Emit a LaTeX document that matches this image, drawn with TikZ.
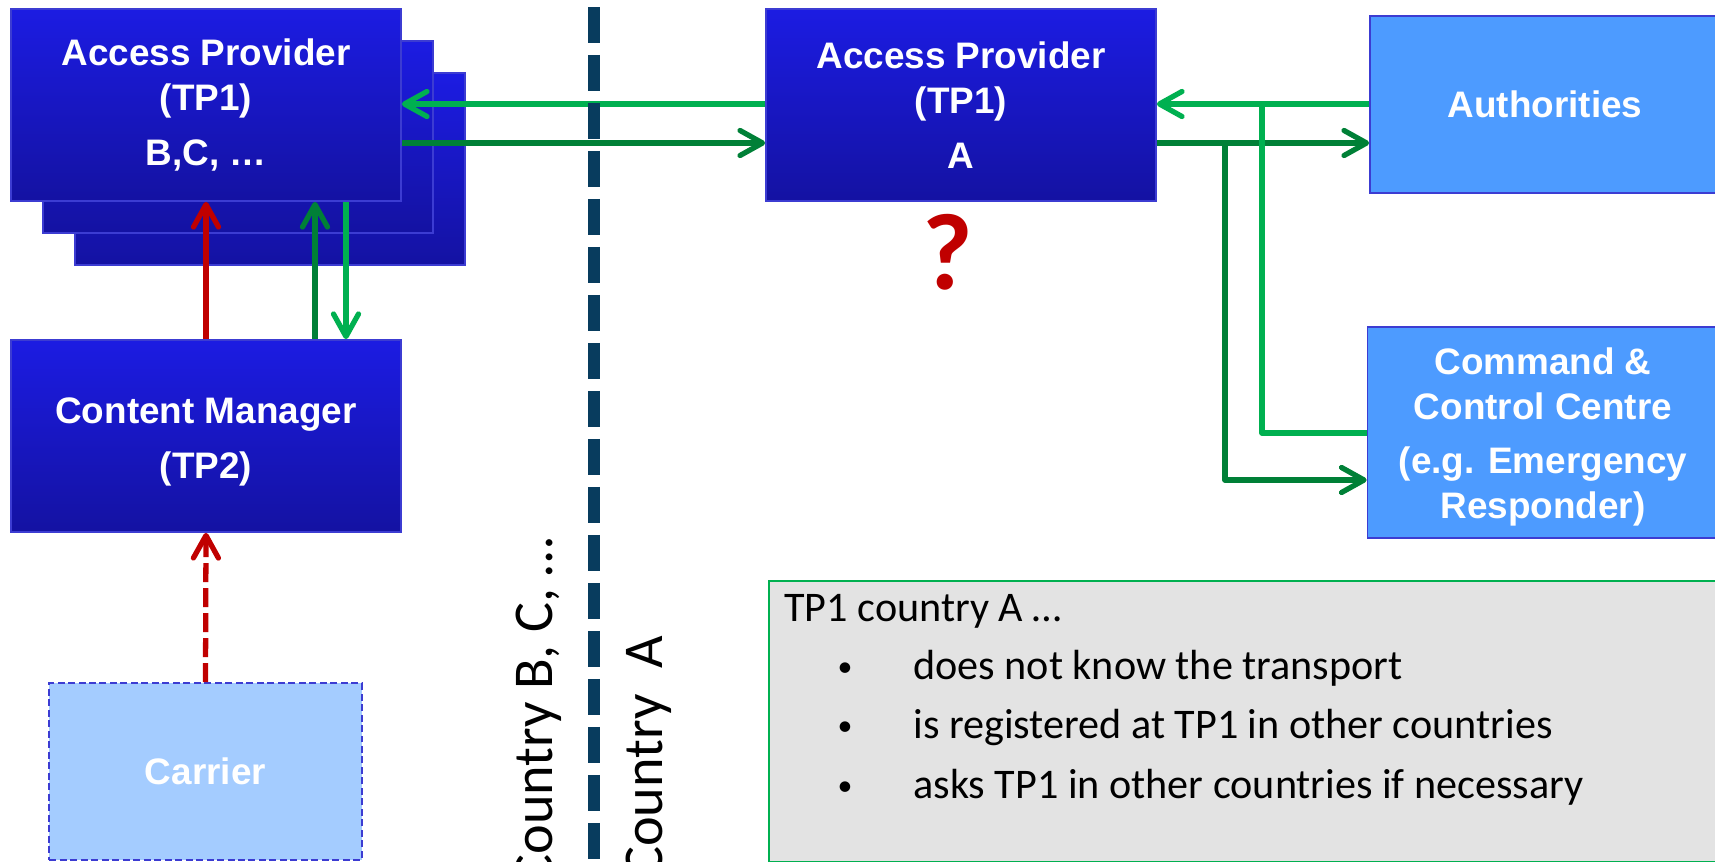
\documentclass[tikz,border=0pt]{standalone}
\usepackage{fontspec}
\setmainfont{Carlito}
\setsansfont{Liberation Sans}
\usetikzlibrary{
    arrows.meta,
    calc,
    positioning
}
\definecolor{apblue}{RGB}{28,28,226}
\definecolor{apdark}{RGB}{20,18,162}
\definecolor{apedge}{RGB}{60,60,210}
\definecolor{skyblue}{RGB}{77,155,255}
\definecolor{paleblue}{RGB}{164,204,255}
\definecolor{ltgreen}{RGB}{0,176,80}
\definecolor{dkgreen}{RGB}{0,128,55}
\definecolor{flowred}{RGB}{192,0,0}
\definecolor{borderline}{RGB}{8,60,94}
\definecolor{notegray}{RGB}{227,227,227}
\tikzset{
    boxfont/.style={font=\sffamily\bfseries\fontsize{21}{25.5}\selectfont},
    tpbox/.style={boxfont, draw=apedge, line width=1pt, top color=apblue, bottom color=apdark,
        text=white, align=center, inner sep=0pt, minimum width=7.8cm, minimum height=3.84cm},
    extbox/.style={boxfont, draw=apedge, line width=1pt, fill=skyblue, text=white,
        align=center, inner sep=0pt},
    flow/.style={line width=3pt, line join=round, -{Straight Barb[length=4.5mm,width=5mm,round]}},
    notetext/.style={font=\fontsize{24}{29}\selectfont, inner sep=0pt, anchor=base west},
    dot/.style={font=\fontsize{17}{20}\selectfont, inner sep=0pt, anchor=base}
}

\begin{document}
\begin{tikzpicture}[x=0.02cm, y=-0.02cm]
    \useasboundingbox (0,0) rectangle (1715,862);

    \node[tpbox] (apb3) at (270,169) {};
    \node[tpbox] (apb2) at (238,137) {};
    \node[tpbox] (apb) at (206,105) {Access Provider\\(TP1)\\[5.5pt]B,C, …};
    \node[tpbox] (cm) at (206,436) {\rule{0pt}{21.5pt}Content Manager\\[5.5pt](TP2)};
    \node[boxfont, draw=apedge, line width=1pt, dash pattern=on 0.14cm off 0.07cm, fill=paleblue,
        text=white, inner sep=0pt, minimum width=6.26cm, minimum height=3.54cm] (car) at (205.5,771.5) {Carrier};
    \node[tpbox] (apa) at (961,105) {Access Provider\\(TP1)\\[5.5pt]A};
    \node[extbox, minimum width=7cm, minimum height=3.54cm] (auth) at (1545,104.5) {Authorities};
    \node[extbox, minimum width=7.02cm, minimum height=4.22cm] (ccc) at (1543,432.5)
        {\rule{0pt}{20.5pt}Command \&\\Control Centre\\[5.5pt](e.g. Emergency\\Responder)};
    \node[text=flowred, inner sep=0pt, font=\bfseries\fontsize{62}{70}\selectfont] (qm) at (948,252) {?};

    \node[draw=ltgreen, fill=notegray, line width=1pt, anchor=north west, inner sep=0pt,
        minimum width=19.04cm, minimum height=5.62cm] (note) at (768,580) {};
    \node[notetext] (n0) at (784,621) {TP1 country A …};
    \node[dot] (b1) at (845,676) {•};
    \node[notetext] (n1) at (913,679) {does not know the transport};
    \node[dot] (b2) at (845,735) {•};
    \node[notetext] (n2) at (913,738) {is registered at TP1 in other countries};
    \node[dot] (b3) at (845,795) {•};
    \node[notetext] (n3) at (913,798) {asks TP1 in other countries if necessary};

    \coordinate (dg1) at (315,0);
    \coordinate (lg1) at (346,0);
    \coordinate (dgv) at (1225,0);
    \coordinate (lgv) at (1262,0);
    \coordinate (ya) at (0,104);
    \coordinate (yb) at (0,143);
    \coordinate (yc) at (0,433);
    \coordinate (yd) at (0,480);

    \draw[flow, flowred] (cm.north) -- (apb.south);
    \draw[flow, dkgreen] (cm.north -| dg1) -- (apb.south -| dg1);
    \draw[flow, ltgreen] (apb.south -| lg1) -- (cm.north -| lg1);
    \draw[flow, flowred, dash pattern=on 0.38cm off 0.12cm] (car.north) -- (cm.south);
    \draw[flow, ltgreen] (apa.west |- ya) -- (apb.east |- ya);
    \draw[flow, dkgreen] (apb.east |- yb) -- (apa.west |- yb);
    \draw[flow, ltgreen] (auth.west |- ya) -- (apa.east |- ya);
    \draw[flow, dkgreen] (apa.east |- yb) -- (auth.west |- yb);
    \draw[ltgreen, line width=3pt, line join=round] (ccc.west |- yc) -| (lgv |- ya);
    \draw[flow, dkgreen] (dgv |- yb) |- (ccc.west |- yd);

    \coordinate (septop) at (594,7);
    \coordinate (sepbot) at (594,870);
    \draw[borderline, line width=6.8pt, dash pattern=on 0.72cm off 0.24cm] (septop) -- (sepbot);
    \node[rotate=90, anchor=base east, inner sep=0pt, font=\fontsize{32}{38}\selectfont] (cbc) at (552,537) {Country B, C, …};
    \node[rotate=90, anchor=base east, inner sep=0pt, font=\fontsize{32}{38}\selectfont] (ca) at (662,636) {Country~~A};
\end{tikzpicture}
\end{document}
